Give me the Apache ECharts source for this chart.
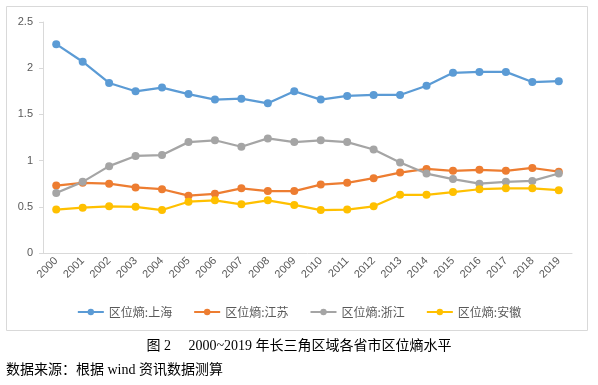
<!DOCTYPE html>
<html><head><meta charset="utf-8">
<script src="https://cdn.jsdelivr.net/npm/echarts@6/dist/echarts.min.js"></script>
<style>html,body{margin:0;padding:0;background:#fff;}#c{width:598px;height:385px;}</style>
</head><body><div id="c"></div>
<script>
const years = ['2000','2001','2002','2003','2004','2005','2006','2007','2008','2009','2010','2011','2012','2013','2014','2015','2016','2017','2018','2019'];
const shanghai = [2.26,2.07,1.84,1.75,1.79,1.72,1.66,1.67,1.62,1.75,1.66,1.70,1.71,1.71,1.81,1.95,1.96,1.96,1.85,1.86];
const jiangsu = [0.73,0.76,0.75,0.71,0.69,0.62,0.64,0.70,0.67,0.67,0.74,0.76,0.81,0.87,0.91,0.89,0.90,0.89,0.92,0.88];
const zhejiang = [0.65,0.77,0.94,1.05,1.06,1.20,1.22,1.15,1.24,1.20,1.22,1.20,1.12,0.98,0.86,0.80,0.75,0.77,0.78,0.86];
const anhui = [0.47,0.49,0.505,0.50,0.465,0.555,0.57,0.527,0.57,0.52,0.465,0.47,0.505,0.63,0.63,0.66,0.69,0.70,0.70,0.68];
const names = ['区位熵:上海','区位熵:江苏','区位熵:浙江','区位熵:安徽'];
const colors = ['#5B9BD5','#ED7D31','#A5A5A5','#FFC000'];
const caption = '图 2\u3000 2000~2019 年长三角区域各省市区位熵水平';
const source = '数据来源：根据 wind 资讯数据测算';

const chart = echarts.init(document.getElementById('c'));
const serie = (n, d, c) => ({
  name: n, type: 'line', data: d, symbol: 'circle', symbolSize: 8,
  lineStyle: {color: c, width: 2.25}, itemStyle: {color: c}, emphasis: {disabled: true}
});
chart.setOption({
  animation: false,
  color: colors,
  grid: {left: 43, right: 26, top: 22, bottom: 132},
  xAxis: {
    type: 'category', data: years, boundaryGap: true,
    axisLine: {lineStyle: {color: '#D9D9D9'}},
    axisTick: {show: false},
    axisLabel: {rotate: 45, color: '#595959', fontSize: 11, fontFamily: 'Liberation Sans, Arial', margin: 6, interval: 0}
  },
  yAxis: {
    type: 'value', min: 0, max: 2.5, interval: 0.5,
    axisLine: {show: true, lineStyle: {color: '#D9D9D9'}},
    axisTick: {show: true, length: 4, lineStyle: {color: '#D9D9D9'}},
    splitLine: {show: false},
    axisLabel: {color: '#595959', fontSize: 11, fontFamily: 'Liberation Sans, Arial', margin: 10}
  },
  legend: {
    top: 301, left: 'center', itemWidth: 26, itemHeight: 8, itemGap: 21,
    textStyle: {color: '#595959', fontSize: 12, fontFamily: 'Noto Sans CJK SC'},
    data: names
  },
  graphic: [
    {type: 'rect', shape: {x: 6.5, y: 6.5, width: 581, height: 324}, style: {fill: 'none', stroke: '#D9D9D9', lineWidth: 1}, silent: true, z: -1},
    {type: 'text', left: 'center', top: 339, style: {text: caption, fill: '#000', font: '14px "Liberation Serif", "Noto Sans CJK SC"'}},
    {type: 'text', left: 6, top: 363, style: {text: source, fill: '#000', font: '14px "Liberation Serif", "Noto Sans CJK SC"'}}
  ],
  series: [serie(names[0], shanghai, colors[0]), serie(names[1], jiangsu, colors[1]), serie(names[2], zhejiang, colors[2]), serie(names[3], anhui, colors[3])]
});
</script></body></html>
